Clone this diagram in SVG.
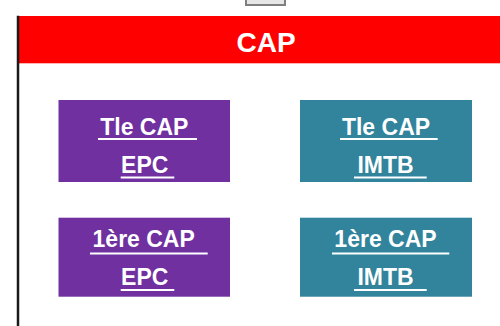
<svg xmlns="http://www.w3.org/2000/svg" width="500" height="326" viewBox="0 0 500 326">
<style>
.t{font-family:"Liberation Sans",Arial,sans-serif;font-weight:bold;font-size:23px;fill:#ffffff;text-anchor:middle}
.u{stroke:#ffffff;stroke-width:2}
.p{fill:#7030A0}
.g{fill:#31849B}
</style>
<rect width="500" height="326" fill="#ffffff"/>
<rect x="246" y="-3" width="39" height="8" fill="#e6e6e6" stroke="#7f7f7f" stroke-width="2"/>
<g id="header">
<rect x="19" y="16" width="481" height="47.3" fill="#ff0000"/>
<line x1="18" y1="15.7" x2="18" y2="326" stroke="#1a1a1a" stroke-width="2.5"/>
<text x="266" y="52" font-family="Liberation Sans,Arial,sans-serif" font-weight="bold" font-size="28" fill="#ffffff" text-anchor="middle">CAP</text>
</g>
<g id="tle-epc">
<rect class="p" x="58.5" y="100" width="171.5" height="82"/>
<text class="t" x="144.3" y="135">Tle CAP</text>
<line class="u" x1="98" y1="139" x2="197" y2="139"/>
<text class="t" x="144.7" y="172.5">EPC</text>
<line class="u" x1="120.7" y1="177.5" x2="174.3" y2="177.5"/>
</g>
<g id="tle-imtb">
<rect class="g" x="300" y="100" width="172" height="82"/>
<text class="t" x="386" y="135">Tle CAP</text>
<line class="u" x1="340" y1="139" x2="437.7" y2="139"/>
<text class="t" x="385.5" y="172.5">IMTB</text>
<line class="u" x1="354" y1="177.5" x2="426.7" y2="177.5"/>
</g>
<g id="1ere-epc">
<rect class="p" x="58.5" y="217.7" width="171.5" height="79"/>
<text class="t" x="143.7" y="246.5">1ère CAP</text>
<line class="u" x1="90" y1="253.5" x2="207.7" y2="253.5"/>
<text class="t" x="144.7" y="285">EPC</text>
<line class="u" x1="120.7" y1="290" x2="174.3" y2="290"/>
</g>
<g id="1ere-imtb">
<rect class="g" x="300" y="217.7" width="172" height="79"/>
<text class="t" x="385.5" y="246.5">1ère CAP</text>
<line class="u" x1="332" y1="253.5" x2="449.3" y2="253.5"/>
<text class="t" x="385.5" y="285">IMTB</text>
<line class="u" x1="354" y1="290" x2="426.7" y2="290"/>
</g>
<g id="connectors"/>
</svg>
